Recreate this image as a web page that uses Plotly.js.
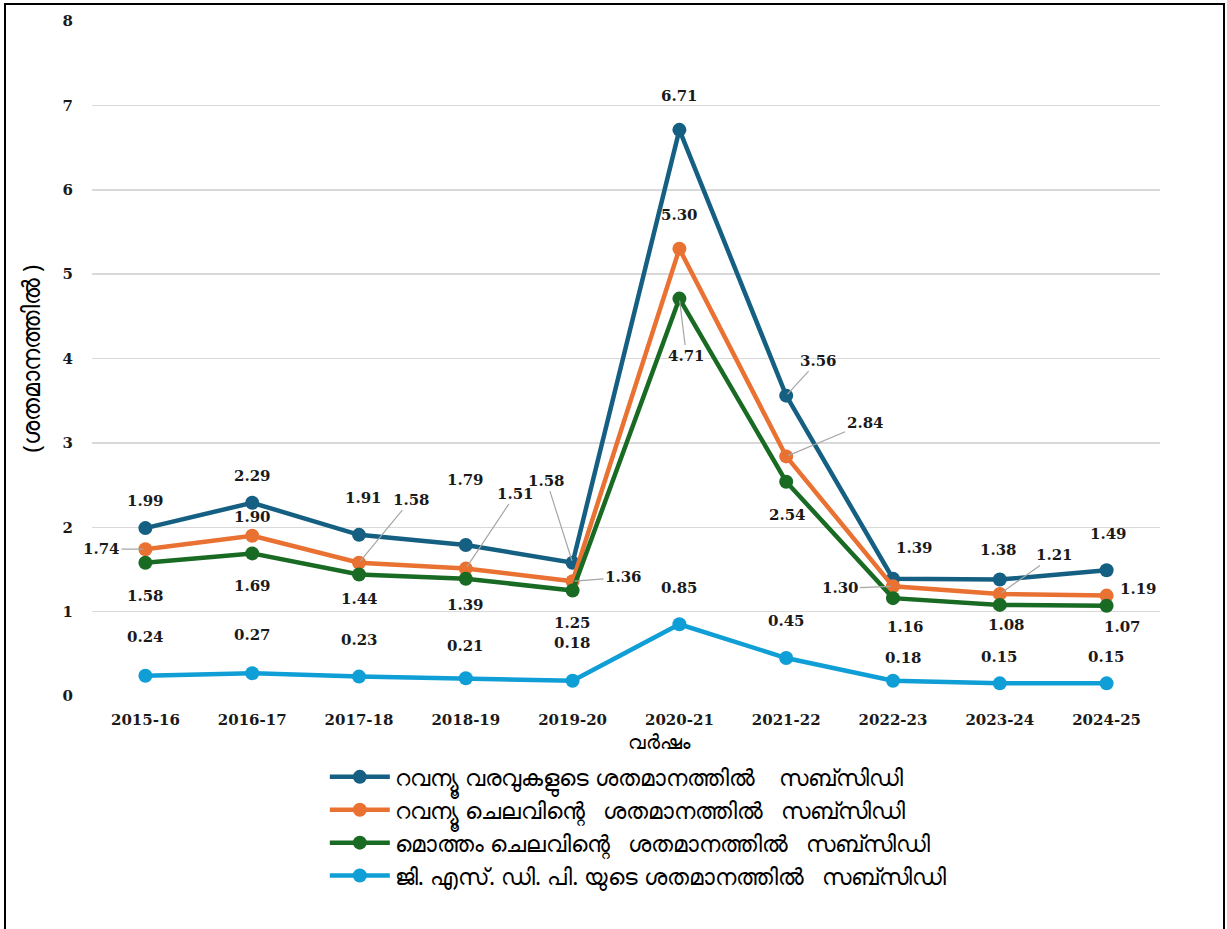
<!DOCTYPE html>
<html>
<head>
<meta charset="utf-8">
<script src="https://cdn.plot.ly/plotly-3.0.1.min.js"></script>
<style>
  html, body { margin: 0; padding: 0; background: #ffffff; }
  #chart { position: absolute; left: 0; top: 0; width: 1227px; height: 929px; }
  #frame { position: absolute; left: 4px; top: 3px; width: 1221px; height: 1000px;
           border: 2.5px solid #000; box-sizing: border-box; pointer-events: none; }
</style>
</head>
<body>
<div id="chart"></div>
<div id="frame"></div>
<script>
// ---- data ----
const years = ["2015-16","2016-17","2017-18","2018-19","2019-20","2020-21","2021-22","2022-23","2023-24","2024-25"];
const seriesNames = [
  "റവന്യൂ വരവുകളുടെ ശതമാനത്തിൽ \u00a0 \u00a0സബ്സിഡി",
  "റവന്യൂ ചെലവിന്റെ \u00a0 ശതമാനത്തിൽ \u00a0 സബ്സിഡി",
  "മൊത്തം ചെലവിന്റെ \u00a0 ശതമാനത്തിൽ \u00a0 സബ്സിഡി",
  "ജി. എസ്. ഡി. പി. യുടെ ശതമാനത്തിൽ \u00a0 സബ്സിഡി"
];
const revenueReceiptsPct = [1.99, 2.29, 1.91, 1.79, 1.58, 6.71, 3.56, 1.39, 1.38, 1.49];
const revenueExpPct      = [1.74, 1.90, 1.58, 1.51, 1.36, 5.30, 2.84, 1.30, 1.21, 1.19];
const totalExpPct        = [1.58, 1.69, 1.44, 1.39, 1.25, 4.71, 2.54, 1.16, 1.08, 1.07];
const gsdpPct            = [0.24, 0.27, 0.23, 0.21, 0.18, 0.85, 0.45, 0.18, 0.15, 0.15];
const yTickVals = [0,1,2,3,4,5,6,7,8];
const xAxisTitle = "വർഷം";
const yAxisTitle = "(ശതമാനത്തിൽ )";

// ---- styling ----
const seriesValues = [revenueReceiptsPct, revenueExpPct, totalExpPct, gsdpPct];
const colors = ["#156082", "#E97132", "#196B24", "#0F9ED5"];

// label offsets in pixels (dx, dy) and whether a leader line is drawn
const labelDx = [
  [0, 0, 4, 0, -26, 0, 32, 21, -1, 2],
  [-44, 0, 52, 50, 51, 0, 79, -53, 55, 32],
  [0, 0, 0, 0, 0, 7, 1, 12, 7, 16],
  [0, 0, 0, 0, 0, 0, 0, 10, 0, 0]
];
const labelDy = [
  [-27, -27, -37, -65, -82, -34, -35, -31, -30, -36],
  [0, -19, -63, -75, -4, -34, -33, 2, -39, -7],
  [33, 33, 24, 26, 32, 57, 33, 29, 20, 21],
  [-39, -38, -37, -32, -38, -36, -37, -23, -26, -26]
];
const leader = [
  [0,0,0,0,1,0,1,0,0,0],
  [1,0,1,1,1,0,1,1,1,0],
  [0,0,0,0,0,1,0,0,0,0],
  [0,0,0,0,0,0,0,0,0,0]
];

const traces = seriesValues.map((vals, s) => ({
  type: "scatter",
  mode: "lines+markers",
  x: years,
  y: vals,
  name: seriesNames[s],
  legendgroup: "g" + s,
  line: { color: colors[s], width: 4.5 },
  marker: { color: colors[s], size: 14 },
  cliponaxis: false,
  hoverinfo: "x+y"
}));

const annotations = [];
seriesValues.forEach((vals, s) => {
  vals.forEach((v, i) => {
    annotations.push({
      x: years[i], y: v, xref: "x", yref: "y",
      text: v.toFixed(2),
      showarrow: true,
      arrowhead: 0,
      arrowwidth: 1.2,
      arrowcolor: leader[s][i] ? "#A6A6A6" : "rgba(0,0,0,0)",
      standoff: 2,
      ax: labelDx[s][i], ay: labelDy[s][i],
      font: { family: "DejaVu Serif, serif", size: 15, color: "#1a1a1a", weight: "bold" }
    });
  });
});

annotations.push({
  xref: "paper", yref: "paper", x: 0.531, y: -0.0681,
  xanchor: "center", yanchor: "middle",
  text: xAxisTitle, showarrow: false,
  font: { family: "Noto Sans, sans-serif", size: 20, color: "#000" }
});
annotations.push({
  xref: "paper", yref: "paper", x: -0.058, y: 0.5,
  xanchor: "center", yanchor: "middle",
  text: yAxisTitle, showarrow: false, textangle: -90,
  font: { family: "Noto Sans, sans-serif", size: 24, color: "#000" }
});

const layout = {
  width: 1227, height: 929,
  margin: { l: 92, r: 67, t: 21, b: 233 },
  paper_bgcolor: "#ffffff", plot_bgcolor: "#ffffff",
  showlegend: true,
  legend: {
    x: 0.218, y: -0.088, xanchor: "left", yanchor: "top",
    orientation: "v",
    traceorder: "normal",
    tracegroupgap: 11,
    itemwidth: 60,
    font: { family: "Noto Sans, sans-serif", size: 23, color: "#000" },
    bgcolor: "rgba(0,0,0,0)"
  },
  xaxis: {
    type: "category",
    range: [-0.5, 9.5],
    showgrid: false, zeroline: false, showline: false,
    ticks: "", ticklabelstandoff: 13,
    tickfont: { family: "DejaVu Serif, serif", size: 15, color: "#1a1a1a", weight: "bold" },
    fixedrange: true
  },
  yaxis: {
    range: [0, 8], tickvals: yTickVals,
    showgrid: true, gridcolor: "#D9D9D9", gridwidth: 1.5,
    zeroline: false, showline: false,
    ticks: "", ticklabelstandoff: 18,
    tickfont: { family: "DejaVu Serif, serif", size: 15, color: "#1a1a1a", weight: "bold" },
    fixedrange: true
  },
  annotations: annotations
};

Plotly.newPlot("chart", traces, layout, { displayModeBar: false, staticPlot: true });
</script>
</body>
</html>
